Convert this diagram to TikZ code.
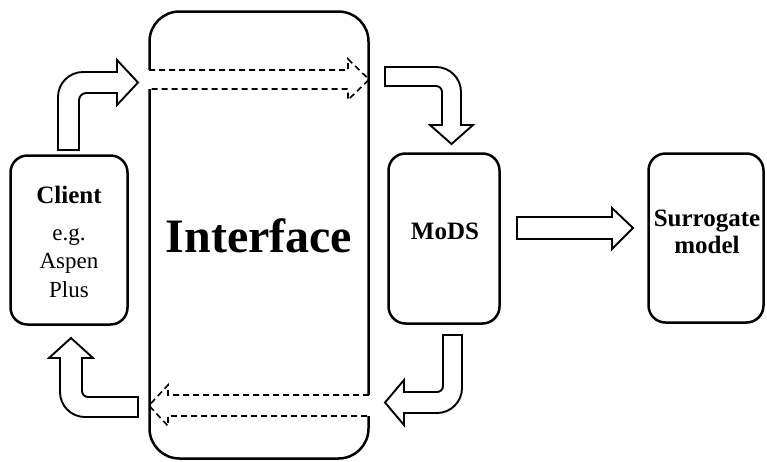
\documentclass[tikz,border=0pt]{standalone}
\usepackage{fontspec}
\setmainfont{Liberation Serif}
\usepackage{tikz}

\tikzset{
  roundbox/.style={rectangle, draw=black, line width=2.5pt, rounded corners=17pt,
    inner sep=0pt},
  bigbox/.style={roundbox, rounded corners=30pt},
  boxtext/.style={align=center, inner sep=0pt, font=\bfseries},
  blockarrow/.style={draw=black, fill=white, line width=1.9pt, line join=miter},
  passarrow/.style={draw=black, line width=1.6pt, dash pattern=on 6pt off 4pt},
}

\begin{document}
\begin{tikzpicture}[x=1pt, y=-1pt]
  \useasboundingbox (0,0) rectangle (767,461);

  % Boxes (left to right)
  \node[roundbox, minimum width=117pt, minimum height=169pt] (client) at (69,240) {};
  \node[bigbox, minimum width=219pt, minimum height=447pt] (iface) at (259,235) {};
  \node[roundbox, minimum width=111pt, minimum height=170pt] (mods) at (444,238.5) {};
  \node[roundbox, minimum width=115pt, minimum height=169pt] (surr) at (706,238) {};

  % Box texts
  \node[boxtext, font=\fontsize{23}{28}\selectfont] (clienttext) at (69,242)
    {{\bfseries\fontsize{25}{28}\selectfont Client}\\[9pt]e.g.\\Aspen\\[1pt]Plus};
  \node[boxtext, font=\fontsize{48}{54}\selectfont\bfseries] (ifacetext) at (259,235.5) {Interface};
  \node[boxtext, font=\fontsize{25}{28}\selectfont\bfseries] (modstext) at (445,231.5) {MoDS};
  \node[boxtext, font=\fontsize{25}{27}\selectfont\bfseries] (surrtext) at (707,232) {Surrogate\\model};

  % Dashed arrows running through the interface
  \fill[white] (146,70) -- (348,70) -- (348,89) -- (146,89) -- cycle;
  \draw[passarrow] (149,70) -- (348,70) -- (348,59) -- (369,79.5) -- (348,100) -- (348,89) -- (149,89);
  \fill[white] (168,395) -- (372,395) -- (372,416) -- (168,416) -- cycle;
  \draw[passarrow] (369,395) -- (168,395) -- (168,385) -- (149,405.5) -- (168,426) -- (168,416) -- (369,416);

  % Client -> Interface
  \draw[blockarrow] (58,150) -- (58,97) .. controls (58,83.2) and (69.2,72) .. (83,72)
    -- (117,72) -- (117,60) -- (138,82.5) -- (117,105) -- (117,93) -- (86,93)
    .. controls (82.1,93) and (79,96.9) .. (79,100) -- (79,150) -- cycle;

  % Interface -> MoDS
  \draw[blockarrow] (385,67) -- (436,67) .. controls (449.8,67) and (461,78.2) .. (461,92)
    -- (461,125) -- (473,125) -- (451.5,144) -- (430,125) -- (442,125) -- (442,92)
    .. controls (442,88.7) and (439.3,86) .. (436,86) -- (385,86) -- cycle;

  % MoDS -> Surrogate model
  \draw[blockarrow] (517,217) -- (612,217) -- (612,208) -- (633,228) -- (612,249) -- (612,239) -- (517,239) -- cycle;

  % MoDS -> Interface
  \draw[blockarrow] (443,335) -- (462,335) -- (462,388) .. controls (462,401.8) and (450.8,413) .. (437,413)
    -- (404,413) -- (404,425) -- (385,402.5) -- (404,380) -- (404,392) -- (437,392)
    .. controls (440.3,392) and (443,389.3) .. (443,386) -- cycle;

  % Interface -> Client
  \draw[blockarrow] (138,397) -- (138,417) -- (85,417) .. controls (71.2,417) and (60,405.8) .. (60,392)
    -- (60,358) -- (49,358) -- (71,338) -- (93,358) -- (82,358) -- (82,391)
    .. controls (82,394.3) and (84.7,397) .. (88,397) -- cycle;
\end{tikzpicture}
\end{document}
